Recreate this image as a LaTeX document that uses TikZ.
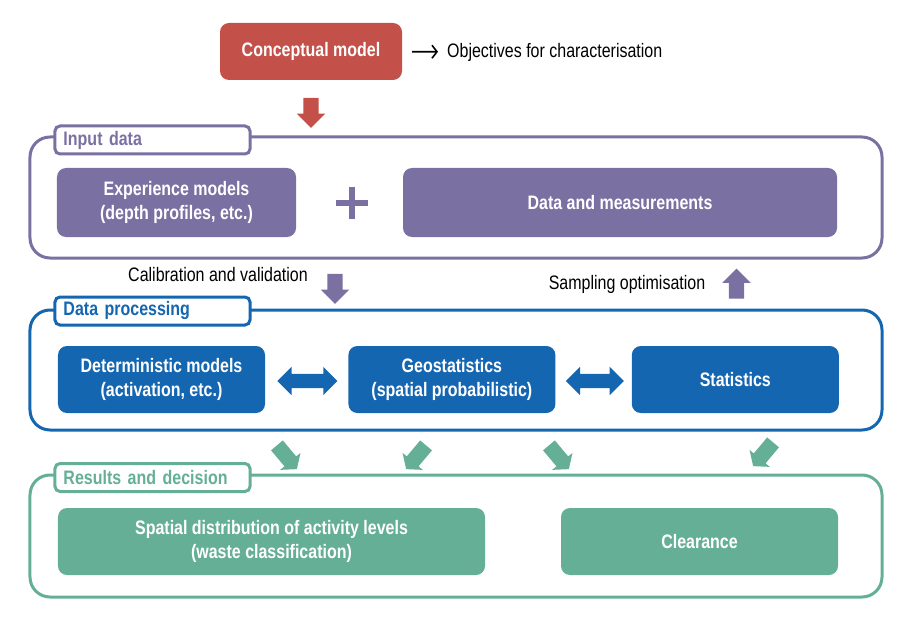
\documentclass[tikz,border=0pt]{standalone}
\usepackage{fontspec}
\setmainfont{Liberation Sans}[FakeStretch=0.82]
\usetikzlibrary{shapes.arrows, arrows.meta, positioning}
\definecolor{conred}{HTML}{C4504A}
\definecolor{inpurple}{HTML}{7B70A2}
\definecolor{procblue}{HTML}{1466B1}
\definecolor{resgreen}{HTML}{65AF96}
\tikzset{
    block/.style={rectangle, rounded corners=9bp, fill=#1, text=white, align=center, inner sep=0pt,
        font=\bfseries\fontsize{19.5bp}{24bp}\selectfont},
    frame/.style={rectangle, rounded corners=20bp, draw=#1, line width=3bp, inner sep=0pt,
        minimum width=852bp},
    tag/.style={rectangle, rounded corners=5bp, draw=#1, fill=white, line width=3bp, text=#1,
        text width=178bp, align=left, inner xsep=8.5bp, inner ysep=0pt, minimum height=28bp,
        font=\bfseries\fontsize{19.5bp}{20bp}\selectfont},
    note/.style={inner sep=3bp, font=\fontsize{19.5bp}{22bp}\selectfont},
    bigarrow/.style={single arrow, fill=#1, draw=none, inner xsep=0pt, inner ysep=7.5bp,
        minimum height=30bp, single arrow head extend=6.5bp},
    twoarrow/.style={double arrow, fill=procblue, draw=none, inner xsep=0pt, inner ysep=7bp,
        minimum height=60bp, double arrow head extend=7bp},
    outarrow/.style={single arrow, fill=resgreen, draw=none, inner xsep=0pt, inner ysep=7.5bp,
        minimum height=31bp, single arrow head extend=5.5bp, single arrow tip angle=105},
    pointer/.style={line width=1.6bp, -{Straight Barb[length=5bp, width=13bp]}}
}
\begin{document}
\begin{tikzpicture}[x=1bp, y=-1bp]
\useasboundingbox (0,0) rectangle (916,622);

% Conceptual model
\node[block=conred, minimum width=182bp, minimum height=57bp] (concept) at (311,51.5) {Conceptual model};
\node[note, anchor=west] (objectives) at (444,52) {Objectives for characterisation};
\draw[pointer, shorten <=10bp, shorten >=6bp] (concept) -- (objectives);
\node[bigarrow=conred, rotate=-90] (conarrow) at (311,109) {};

% Input data
\node[frame=inpurple, minimum height=121bp] (input) at (456,197.5) {};
\node[tag=inpurple] (inputtag) at (152.5,140) {Input data};
\node[block=inpurple, minimum width=239bp, minimum height=69bp] (expmodels) at (176.5,202.5) {Experience models\\(depth profiles, etc.)};
\node[block=inpurple, minimum width=434bp, minimum height=69bp] (datameas) at (620,202.5) {Data and measurements};
\draw[inpurple, line width=6bp] (336,203) -- (368,203) (352,187) -- (352,219);

% Between input and processing
\node[note] (calib) at (218,275) {Calibration and validation};
\node[bigarrow=inpurple, rotate=-90] (calarrow) at (335,285) {};
\node[note] (sampling) at (627,284) {Sampling optimisation};
\node[bigarrow=inpurple, rotate=90] (samparrow) at (736.5,287.5) {};

% Data processing
\node[frame=procblue, minimum height=120bp] (proc) at (456,370) {};
\node[tag=procblue] (proctag) at (152.5,311) {Data processing};
\node[block=procblue, minimum width=207bp, minimum height=67bp] (determ) at (161.5,379.5) {Deterministic models\\(activation, etc.)};
\node[block=procblue, minimum width=207bp, minimum height=67bp] (geostat) [right=83bp of determ] {Geostatistics\\(spatial probabilistic)};
\node[block=procblue, minimum width=207bp, minimum height=67bp] (stats) [right=76bp of geostat] {Statistics};
\node[twoarrow] (detgeo) [right=12bp of determ, yshift=-1.5bp] {};
\node[twoarrow, minimum height=58bp] (geostats) [right=10bp of geostat, yshift=-1.5bp] {};

% Arrows to results
\node[outarrow, rotate=-50] (out1) at (285,455) {};
\node[outarrow, rotate=-130] (out2) at (418,455) {};
\node[outarrow, rotate=-50] (out3) at (557,455) {};
\node[outarrow, rotate=-130] (out4) at (765,452) {};

% Results and decision
\node[frame=resgreen, minimum height=122bp] (results) at (456,536) {};
\node[tag=resgreen] (restag) at (152.5,477.5) {Results and decision};
\node[block=resgreen, minimum width=427bp, minimum height=67bp] (spatial) at (271.5,541.5) {Spatial distribution of activity levels\\(waste classification)};
\node[block=resgreen, minimum width=277bp, minimum height=67bp] (clearance) at (699.5,541.5) {Clearance};

\end{tikzpicture}
\end{document}
